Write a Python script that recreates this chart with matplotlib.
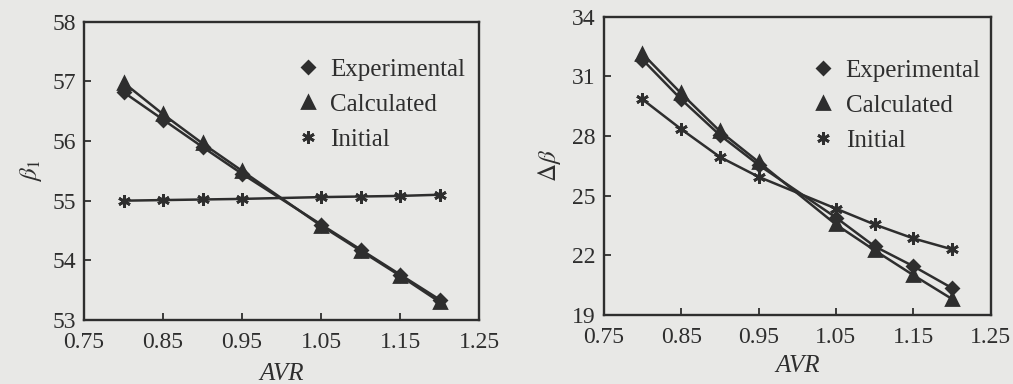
import matplotlib.pyplot as plt
import numpy as np

plt.rcParams["font.family"] = "Liberation Serif"
plt.rcParams["mathtext.fontset"] = "stix"

# data
avr = [0.80, 0.85, 0.90, 0.95, 1.05, 1.10, 1.15, 1.20]

beta1_exp = [56.82, 56.36, 55.90, 55.45, 54.60, 54.18, 53.76, 53.34]
beta1_calc = [56.98, 56.45, 55.96, 55.50, 54.58, 54.16, 53.74, 53.30]
beta1_init = [55.00, 55.01, 55.02, 55.03, 55.06, 55.07, 55.08, 55.10]

dbeta_exp = [31.85, 29.85, 28.05, 26.55, 23.90, 22.45, 21.45, 20.35]
dbeta_calc = [32.15, 30.15, 28.25, 26.70, 23.55, 22.25, 21.00, 19.80]
dbeta_init = [29.85, 28.35, 26.95, 25.95, 24.35, 23.55, 22.85, 22.30]

xticks = [0.75, 0.85, 0.95, 1.05, 1.15, 1.25]
xticklabels = ["0.75", "0.85", "0.95", "1.05", "1.15", "1.25"]
series_names = ["Experimental", "Calculated", "Initial"]

BG = "#e8e8e6"
INK = "#2e2e2e"

fig = plt.figure(figsize=(10.13, 3.84), dpi=100, facecolor=BG)
ax1 = fig.add_axes([0.083, 0.167, 0.390, 0.776])
ax2 = fig.add_axes([0.596, 0.180, 0.382, 0.776])

markers = ["D", "^", (6, 2, 0)]
msizes = [6, 8, 9]


def draw_panel(ax, ys, ylim, yticks, ylabel, legend_anchor, xlabelpad):
    ax.set_facecolor(BG)
    for y, m, ms, name in zip(ys, markers, msizes, series_names):
        ax.plot(avr, y, color=INK, lw=1.8, marker=m, ms=ms, mec=INK,
                mfc=INK, mew=2.0, label=name)
    ax.set_xlim(0.75, 1.25)
    ax.set_ylim(*ylim)
    ax.set_xticks(xticks)
    ax.set_xticklabels(xticklabels)
    ax.set_yticks(yticks)
    ax.tick_params(direction="in", length=5, width=1.3, labelsize=17,
                   colors=INK)
    ax.tick_params(axis="x", pad=9)
    ax.tick_params(axis="y", pad=6)
    for s in ax.spines.values():
        s.set_linewidth(1.7)
        s.set_color(INK)
    ax.set_xlabel("AVR", fontsize=18, style="italic", color=INK,
                  labelpad=xlabelpad)
    ax.set_ylabel(ylabel, fontsize=18, color=INK, labelpad=6)
    leg = ax.legend(loc="upper right", bbox_to_anchor=legend_anchor,
                    frameon=False, fontsize=18, handlelength=0.6,
                    handletextpad=0.6, labelspacing=0.5, borderaxespad=0)
    for h in leg.legend_handles:
        h.set_linestyle("none")
    for t in leg.get_texts():
        t.set_color(INK)


draw_panel(ax1, [beta1_exp, beta1_calc, beta1_init], (53, 58),
           [53, 54, 55, 56, 57, 58], r"$\beta_1$", (0.99, 0.91), 7)
draw_panel(ax2, [dbeta_exp, dbeta_calc, dbeta_init], (19, 34),
           [19, 22, 25, 28, 31, 34], r"$\Delta\beta$", (1.0, 0.89), 5)

fig.savefig("out.png", dpi=100, facecolor=BG)
